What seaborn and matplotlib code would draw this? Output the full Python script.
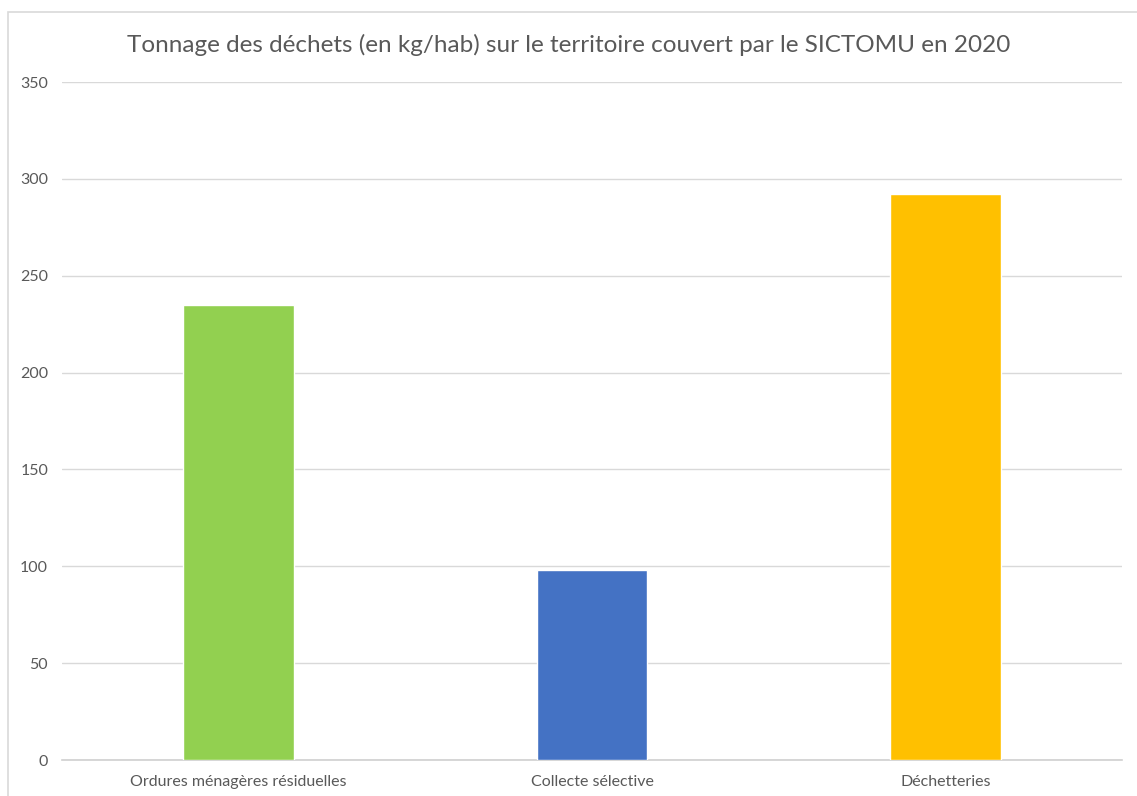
import matplotlib
matplotlib.use("Agg")
import matplotlib.pyplot as plt
import seaborn as sns
import pandas as pd
from matplotlib.patches import Rectangle

# Data
categories = ["Ordures ménagères résiduelles", "Collecte sélective", "Déchetteries"]
values = [235, 98, 292]
colors = ["#92D050", "#4472C4", "#FFC000"]
yticks = [0, 50, 100, 150, 200, 250, 300, 350]

df = pd.DataFrame({"categorie": categories, "kg_hab": values})

sns.set_style("white")
plt.rcParams["font.family"] = ["Lato", "DejaVu Sans"]

fig = plt.figure(figsize=(11.37, 7.96), dpi=100)
ax = fig.add_axes([62 / 1137, 1 - 760 / 796, (1122 - 62) / 1137, (760 - 82) / 796])

sns.barplot(data=df, x="categorie", y="kg_hab", hue="categorie", palette=colors,
            legend=False, width=0.314, saturation=1, ax=ax, zorder=3)

ax.set_ylim(0, 350)
ax.set_xlim(-0.5, 2.5)
ax.set_yticks(yticks)
ax.yaxis.grid(True, color="#D9D9D9", linewidth=1, zorder=0)
ax.set_axisbelow(True)
for s in ["top", "right", "left"]:
    ax.spines[s].set_visible(False)
ax.spines["bottom"].set_color("#D0D0D0")
ax.spines["bottom"].set_linewidth(1.2)
ax.tick_params(axis="both", length=0, labelsize=11.5, colors="#595959")
ax.tick_params(axis="y", pad=10)
ax.tick_params(axis="x", pad=11)
ax.set_xlabel("")
ax.set_ylabel("")

fig.text(0.5, 1 - 45 / 796, "Tonnage des déchets (en kg/hab) sur le territoire couvert par le SICTOMU en 2020",
         ha="center", va="center", fontsize=17.5, color="#595959")

# chart frame
fig.patches.append(Rectangle((8 / 1137, -0.01), 1.0, 1 - 12 / 796 + 0.01, transform=fig.transFigure,
                             fill=False, edgecolor="#D9D9D9", linewidth=1.2))

fig.savefig("out.png", dpi=100)
